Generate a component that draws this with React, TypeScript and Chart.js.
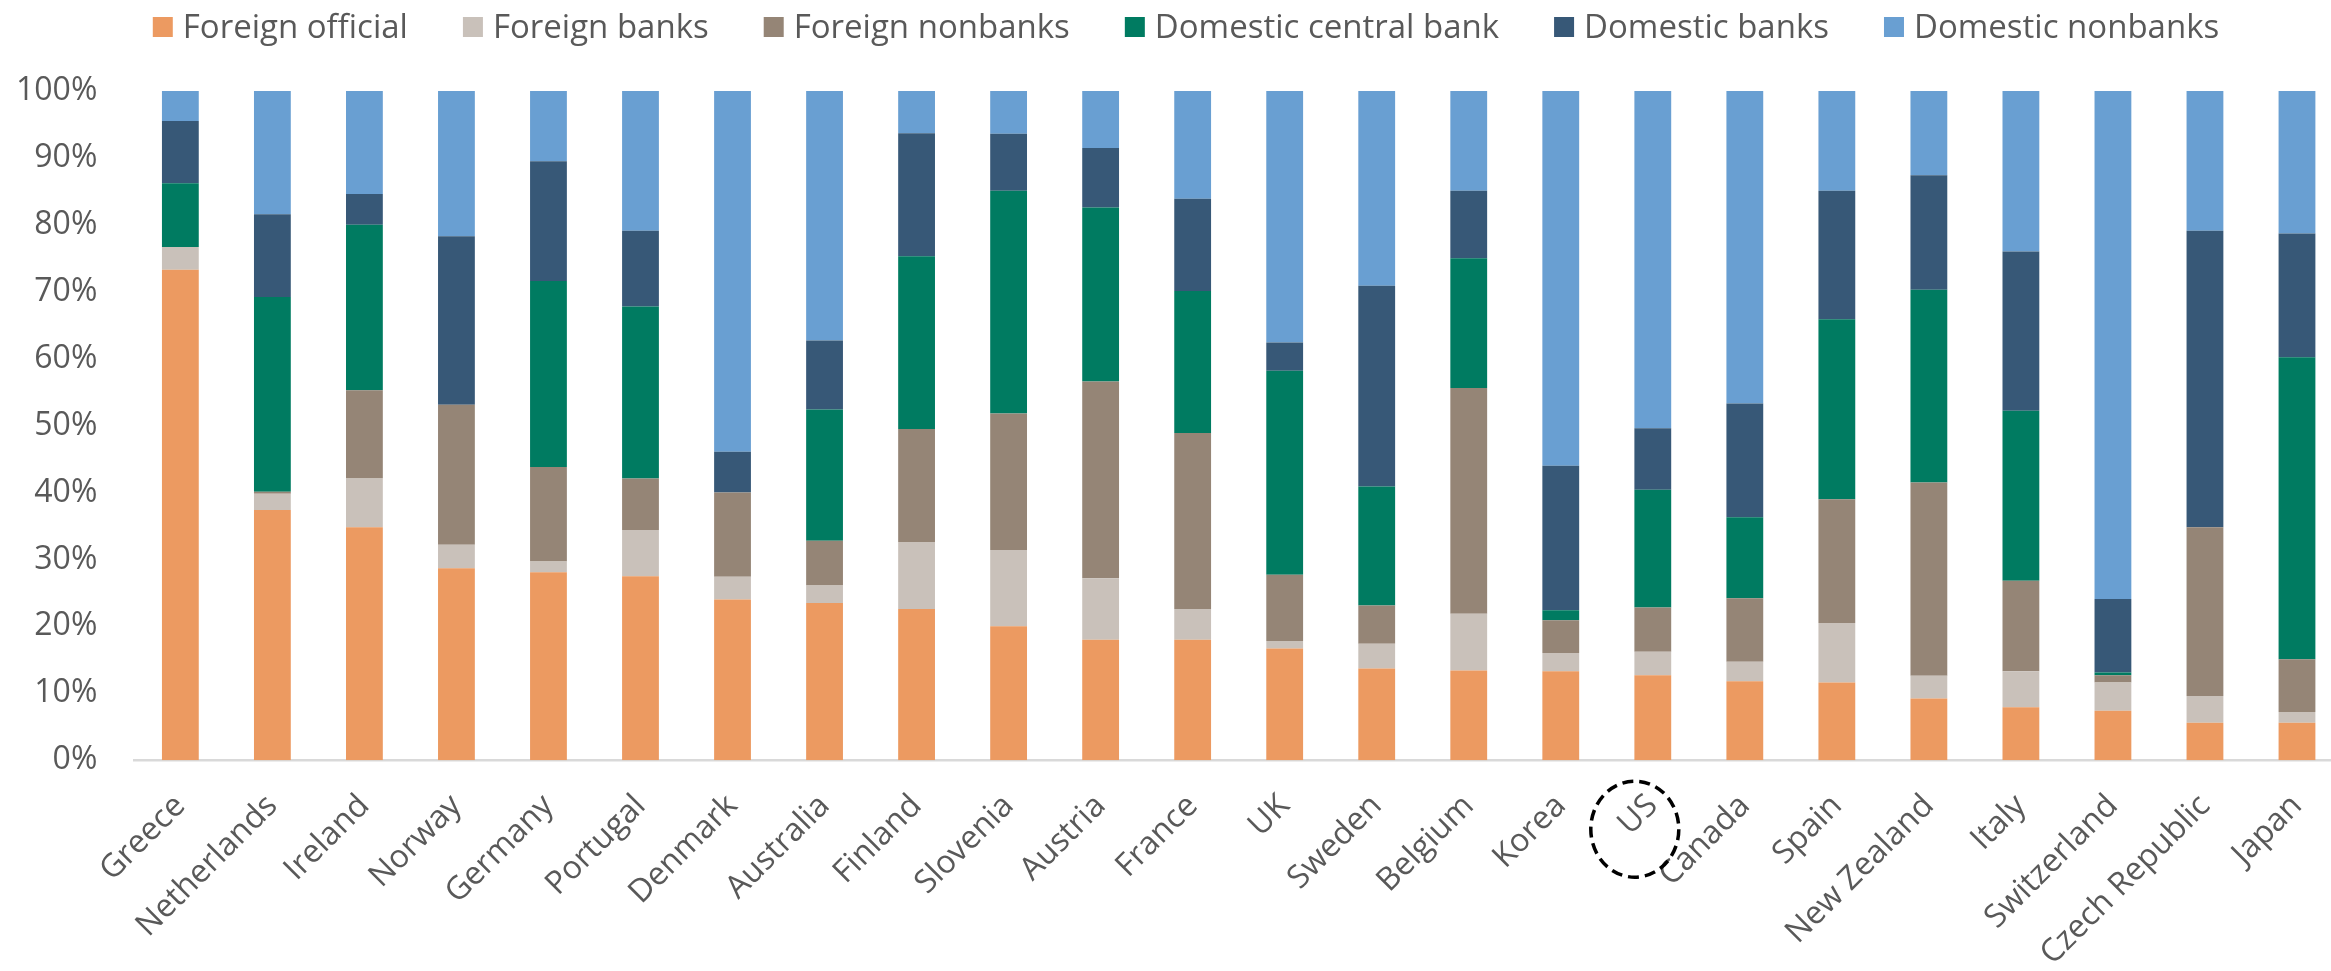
import React, { useEffect, useRef } from 'react';
import { Chart, registerables } from 'chart.js';

Chart.register(...registerables);

const countries = [
  'Greece', 'Netherlands', 'Ireland', 'Norway', 'Germany', 'Portugal', 'Denmark', 'Australia',
  'Finland', 'Slovenia', 'Austria', 'France', 'UK', 'Sweden', 'Belgium', 'Korea', 'US',
  'Canada', 'Spain', 'New Zealand', 'Italy', 'Switzerland', 'Czech Republic', 'Japan',
];

const foreignOfficial = [73.3, 37.4, 34.8, 28.7, 28.1, 27.5, 24.0, 23.5, 22.6, 20.0, 18.0, 18.0, 16.7, 13.7, 13.4, 13.3, 12.7, 11.8, 11.6, 9.2, 7.9, 7.4, 5.6, 5.6];
const foreignBanks = [3.4, 2.4, 7.3, 3.5, 1.6, 6.9, 3.4, 2.6, 10.0, 11.4, 9.2, 4.6, 1.1, 3.7, 8.5, 2.7, 3.5, 2.9, 8.9, 3.4, 5.4, 4.2, 4.0, 1.6];
const foreignNonbanks = [0, 0.3, 13.2, 20.9, 14.1, 7.7, 12.6, 6.7, 16.9, 20.4, 29.4, 26.3, 9.9, 5.7, 33.7, 4.9, 6.6, 9.5, 18.5, 28.9, 13.5, 1.1, 25.2, 7.9];
const domesticCentralBank = [9.5, 29.1, 24.7, 0, 27.8, 25.7, 0, 19.6, 25.8, 33.3, 26.0, 21.2, 30.5, 17.8, 19.4, 1.5, 17.6, 12.1, 26.9, 28.8, 25.4, 0.4, 0, 45.1];
const domesticBanks = [9.3, 12.4, 4.6, 25.2, 17.9, 11.3, 6.1, 10.3, 18.4, 8.5, 8.9, 13.8, 4.2, 30.0, 10.1, 21.6, 9.2, 17.0, 19.2, 17.1, 23.8, 11.0, 44.3, 18.5];
const domesticNonbanks = [4.5, 18.4, 15.4, 21.7, 10.5, 20.9, 53.9, 37.3, 6.3, 6.4, 8.5, 16.1, 37.6, 29.1, 14.9, 56.0, 50.4, 46.7, 14.9, 12.6, 24.0, 75.9, 20.9, 21.3];

const seriesNames = ['Foreign official', 'Foreign banks', 'Foreign nonbanks', 'Domestic central bank', 'Domestic banks', 'Domestic nonbanks'];
const seriesValues = [foreignOfficial, foreignBanks, foreignNonbanks, domesticCentralBank, domesticBanks, domesticNonbanks];
const seriesColors = ['#EC9A61', '#C9C1BA', '#958576', '#007B61', '#375877', '#699FD2'];

const highlighted = 'US';

const TEXT = '#595959';
const FONT = "'Open Sans', sans-serif";

const legendPlugin = {
  id: 'customLegend',
  afterDraw(chart: any) {
    const ctx = chart.ctx;
    ctx.save();
    ctx.font = `33px ${FONT}`;
    const box = 20, gap = 10, itemGap = 55;
    const items = chart.data.datasets.map((ds: any) => ({
      text: ds.label,
      color: ds.backgroundColor,
      w: ctx.measureText(ds.label).width,
    }));
    const total = items.reduce((s: number, it: any) => s + box + gap + it.w, 0) + itemGap * (items.length - 1);
    let x = 1186 - total / 2;
    ctx.textBaseline = 'alphabetic';
    ctx.textAlign = 'left';
    items.forEach((it: any) => {
      ctx.fillStyle = it.color;
      ctx.fillRect(x, 17, box, box);
      ctx.fillStyle = TEXT;
      ctx.fillText(it.text, x + box + gap, 38);
      x += box + gap + it.w + itemGap;
    });
    ctx.restore();
  },
};

const circlePlugin = {
  id: 'usCircle',
  afterDraw(chart: any) {
    const ctx = chart.ctx;
    const xs = chart.scales.x;
    const idx = countries.indexOf(highlighted);
    if (idx < 0) return;
    const cx = xs.getPixelForValue(idx) - 18;
    const cy = chart.chartArea.bottom + 69;
    ctx.save();
    ctx.strokeStyle = '#000000';
    ctx.lineWidth = 3.5;
    ctx.setLineDash([11, 6]);
    ctx.beginPath();
    ctx.ellipse(cx, cy, 44, 48, 0, 0, Math.PI * 2);
    ctx.stroke();
    ctx.restore();
  },
};

export default function App() {
  const canvasRef = useRef<HTMLCanvasElement | null>(null);

  useEffect(() => {
    if (!canvasRef.current) return;
    const chart = new Chart(canvasRef.current, {
      type: 'bar',
      data: {
        labels: countries,
        datasets: seriesNames.map((name, i) => ({
          label: name,
          data: seriesValues[i],
          backgroundColor: seriesColors[i],
          borderWidth: 0,
          barPercentage: 0.4,
          categoryPercentage: 1,
        })),
      },
      options: {
        animation: false,
        responsive: true,
        maintainAspectRatio: false,
        layout: { padding: { top: 91, left: 16, right: 0, bottom: 0 } },
        plugins: {
          legend: { display: false },
          tooltip: { enabled: false },
        },
        scales: {
          x: {
            stacked: true,
            grid: { display: false, drawTicks: false },
            border: { display: true, color: '#D9D9D9', width: 2.5 },
            afterFit: (scale: any) => {
              scale.paddingLeft = 0;
              scale.paddingRight = 0;
            },
            ticks: {
              autoSkip: false,
              maxRotation: 45,
              minRotation: 45,
              padding: 27,
              color: TEXT,
              font: { family: FONT, size: 32 },
            },
          },
          y: {
            stacked: true,
            min: 0,
            max: 100,
            grid: { display: false, drawTicks: false },
            border: { display: false },
            afterFit: (scale: any) => {
              scale.width = scale.width - scale.options.ticks.padding;
            },
            ticks: {
              stepSize: 10,
              padding: 37,
              color: TEXT,
              font: { family: FONT, size: 32 },
              callback: (v: any) => `${v}%`,
            },
          },
        },
      },
      plugins: [legendPlugin, circlePlugin],
    });
    return () => chart.destroy();
  }, []);

  return (
    <div style={{ position: 'fixed', left: 0, top: 0, width: 2331, height: 971, overflow: 'hidden', background: '#ffffff' }}>
      <div style={{ position: 'relative', width: 2343, height: 1000 }}>
        <canvas ref={canvasRef} />
      </div>
    </div>
  );
}
